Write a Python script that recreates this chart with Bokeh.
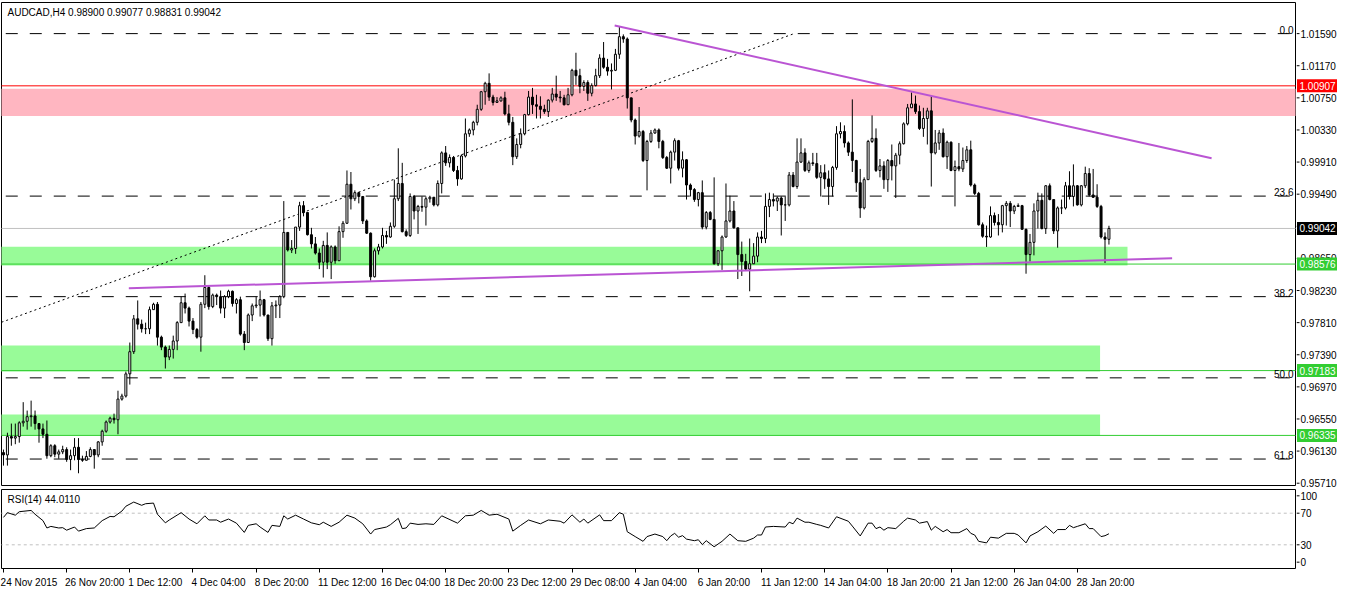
from bokeh.plotting import figure
from bokeh.layouts import column, row
from bokeh.models import (ColumnDataSource, Label, LinearAxis, FixedTicker, Range1d)
from bokeh.core.properties import value
from bokeh.embed import file_html
from bokeh.resources import INLINE

FONT = "Liberation Sans"
PIP = 0.0001

# ---------------- data ----------------
title_text = "AUDCAD,H4  0.98900 0.99077 0.98831 0.99042"
rsi_title = "RSI(14) 44.0110"

first_open_pips = 9611
close_pips = [
    9608, 9632, 9630, 9632, 9650, 9652, 9658, 9659, 9649, 9642,
    9635, 9607, 9620, 9609, 9612, 9615, 9602, 9607, 9618, 9602,
    9601, 9606, 9615, 9608, 9625, 9639, 9651, 9656, 9654, 9681,
    9685, 9714, 9743, 9786, 9779, 9773, 9773, 9798, 9805, 9762,
    9749, 9736, 9746, 9757, 9781, 9807, 9800, 9783, 9772, 9762,
    9805, 9827, 9802, 9817, 9815, 9800, 9815, 9822, 9806, 9811,
    9766, 9755, 9791, 9803, 9804, 9811, 9791, 9760, 9803, 9804,
    9815, 9899, 9876, 9878, 9906, 9934, 9925, 9896, 9884, 9872,
    9860, 9882, 9860, 9880, 9862, 9900, 9911, 9962, 9943, 9951,
    9946, 9914, 9898, 9841, 9875, 9880, 9895, 9893, 9907, 9943,
    9963, 9900, 9895, 9946, 9927, 9933, 9932, 9943, 9945, 9935,
    9963, 10003, 9990, 9997, 9980, 9969, 9999, 10028, 10033, 10043,
    10060, 10083, 10094, 10076, 10069, 10071, 10075, 10054, 10043, 9998,
    10014, 10028, 10053, 10076, 10066, 10064, 10060, 10057, 10072, 10080,
    10076, 10075, 10066, 10079, 10111, 10104, 10090, 10095, 10081, 10091,
    10104, 10127, 10115, 10110, 10111, 10132, 10155, 10152, 10075, 10046,
    10025, 10031, 9993, 10018, 10029, 10033, 10018, 9997, 9983, 10004,
    10019, 9983, 9994, 9961, 9955, 9942, 9951, 9906, 9925, 9916,
    9858, 9875, 9893, 9914, 9927, 9905, 9870, 9861, 9851, 9858,
    9868, 9893, 9891, 9933, 9942, 9940, 9944, 9935, 9935, 9974,
    9959, 9991, 10003, 9980, 9990, 9989, 9971, 9977, 9969, 9959,
    9984, 10028, 10031, 10016, 10004, 9993, 9964, 9931, 9968, 10018,
    10022, 9980, 9986, 9968, 9993, 9986, 10000, 10015, 10041, 10062,
    10067, 10057, 10035, 10048, 10058, 10003, 10016, 10029, 9998, 10017,
    9980, 9985, 9982, 9993, 10007, 9961, 9950, 9909, 9894, 9893,
    9921, 9912, 9909, 9934, 9937, 9927, 9933, 9934, 9903, 9870,
    9886, 9927, 9941, 9904, 9960, 9942, 9901, 9931, 9931, 9960,
    9946, 9960, 9935, 9960, 9976, 9948, 9945, 9933, 9893, 9890,
    9904.2,
]
high_pips = [
    9615, 9637, 9649, 9649, 9652, 9677, 9666, 9679, 9666, 9649,
    9649, 9653, 9622, 9622, 9615, 9620, 9618, 9615, 9630, 9630,
    9607, 9613, 9618, 9615, 9626, 9641, 9653, 9658, 9662, 9692,
    9688, 9717, 9755, 9791, 9810, 9785, 9781, 9802, 9807, 9808,
    9764, 9751, 9751, 9764, 9783, 9815, 9819, 9802, 9787, 9774,
    9808, 9843, 9829, 9819, 9819, 9823, 9817, 9824, 9823, 9813,
    9815, 9770, 9793, 9806, 9815, 9823, 9812, 9791, 9808, 9810,
    9817, 9940, 9899, 9889, 9906, 9939, 9940, 9920, 9905, 9893,
    9878, 9888, 9899, 9882, 9882, 9907, 9914, 9980, 9978, 9954,
    9952, 9946, 9916, 9899, 9878, 9884, 9905, 9901, 9912, 9968,
    10009, 9990, 9903, 9950, 9948, 9935, 9946, 9946, 9947, 9944,
    9967, 10005, 10012, 10001, 9999, 9986, 10001, 10048, 10035, 10045,
    10066, 10084, 10096, 10107, 10079, 10076, 10077, 10083, 10066, 10050,
    10022, 10035, 10054, 10084, 10088, 10079, 10077, 10066, 10073, 10088,
    10104, 10084, 10079, 10088, 10113, 10134, 10113, 10098, 10098, 10094,
    10113, 10132, 10148, 10126, 10120, 10139, 10168, 10158, 10154, 10073,
    10048, 10063, 10033, 10020, 10033, 10035, 10035, 10020, 9999, 10006,
    10022, 10020, 10005, 9995, 9963, 9957, 9952, 9967, 9927, 9927,
    9971, 9876, 9895, 9963, 9947, 9940, 9905, 9887, 9871, 9891,
    9885, 9899, 9901, 9950, 9951, 9950, 9946, 9946, 9946, 9978,
    9978, 10022, 10022, 10009, 9993, 10003, 10003, 9987, 9988, 9980,
    9986, 10038, 10043, 10039, 10018, 10073, 9994, 9982, 9971, 10020,
    10052, 10035, 9995, 9992, 9995, 10014, 10003, 10018, 10043, 10067,
    10082, 10078, 10065, 10062, 10062, 10077, 10033, 10033, 10035, 10019,
    10018, 9993, 10016, 10010, 10012, 10019, 9963, 9952, 9912, 9908,
    9933, 9925, 9923, 9935, 9940, 9940, 9935, 9937, 9935, 9904,
    9897, 9937, 9951, 9950, 9961, 9963, 9933, 9933, 9942, 9965,
    9979, 9988, 9961, 9961, 9985, 9983, 9982, 9962, 9935, 9899,
    9907.7,
]
low_pips = [
    9594, 9594, 9620, 9622, 9624, 9645, 9641, 9645, 9641, 9624,
    9630, 9603, 9605, 9605, 9603, 9609, 9599, 9588, 9601, 9584,
    9599, 9601, 9605, 9590, 9605, 9620, 9637, 9649, 9649, 9635,
    9679, 9683, 9700, 9740, 9772, 9768, 9766, 9766, 9798, 9751,
    9745, 9721, 9732, 9734, 9745, 9787, 9793, 9776, 9766, 9760,
    9743, 9800, 9798, 9800, 9804, 9793, 9787, 9813, 9802, 9793,
    9764, 9745, 9757, 9783, 9800, 9789, 9789, 9757, 9751, 9787,
    9787, 9813, 9874, 9872, 9871, 9901, 9920, 9895, 9878, 9870,
    9851, 9840, 9851, 9838, 9858, 9876, 9892, 9910, 9929, 9940,
    9937, 9910, 9897, 9836, 9840, 9870, 9878, 9884, 9892, 9905,
    9940, 9899, 9893, 9893, 9916, 9897, 9926, 9908, 9938, 9933,
    9933, 9950, 9986, 9984, 9978, 9960, 9968, 9997, 10024, 10026,
    10039, 10058, 10066, 10071, 10065, 10069, 10070, 10052, 10039, 9987,
    9995, 10009, 10026, 10052, 10054, 10048, 10048, 10054, 10050, 10069,
    10071, 10069, 10065, 10066, 10077, 10092, 10081, 10084, 10071, 10077,
    10090, 10101, 10113, 10104, 10086, 10110, 10126, 10147, 10061, 10043,
    10014, 10023, 9991, 9954, 10016, 10028, 10009, 9995, 9982, 9963,
    9993, 9980, 9971, 9942, 9946, 9939, 9933, 9903, 9903, 9915,
    9857, 9855, 9850, 9892, 9912, 9904, 9838, 9842, 9849, 9822,
    9860, 9860, 9885, 9885, 9919, 9933, 9927, 9895, 9914, 9933,
    9958, 9956, 9990, 9978, 9977, 9986, 9969, 9946, 9956, 9935,
    9946, 9981, 10022, 10010, 9999, 9978, 9952, 9918, 9929, 9973,
    10016, 9978, 9971, 9956, 9952, 9967, 9944, 9988, 10014, 10039,
    10062, 10054, 10033, 10024, 10014, 9959, 10001, 10007, 9997, 9982,
    9979, 9933, 9979, 9978, 9990, 9959, 9948, 9908, 9892, 9880,
    9892, 9908, 9895, 9899, 9908, 9906, 9923, 9933, 9903, 9845,
    9861, 9869, 9904, 9903, 9897, 9941, 9897, 9879, 9923, 9929,
    9942, 9933, 9934, 9933, 9957, 9946, 9944, 9931, 9891, 9859,
    9883.1,
]

tick_bars = [0, 16, 32, 48, 64, 80, 96, 112, 128, 144, 160, 176, 192, 208, 224, 240, 256, 272]
tick_labels = ["24 Nov 2015", "26 Nov 20:00", "1 Dec 12:00", "4 Dec 04:00", "8 Dec 20:00",
               "11 Dec 12:00", "16 Dec 04:00", "18 Dec 20:00", "23 Dec 12:00", "29 Dec 08:00",
               "4 Jan 04:00", "6 Jan 20:00", "11 Jan 12:00", "14 Jan 04:00", "18 Jan 20:00",
               "21 Jan 12:00", "26 Jan 04:00", "28 Jan 20:00"]

price_ticks = [0.95710, 0.96130, 0.96550, 0.96970, 0.97390, 0.97810, 0.98230, 0.98650,
               0.99070, 0.99490, 0.99910, 1.00330, 1.00750, 1.01170, 1.01590]

fib_names = ["0.0", "23.6", "38.2", "50.0", "61.8"]
fib_prices = [1.01590, 0.99465, 0.98150, 0.97088, 0.96026]

hline_prices = [1.00907, 0.99042, 0.98576, 0.97183, 0.96335]
hline_texts = ["1.00907", "0.99042", "0.98576", "0.97183", "0.96335"]
hline_colors = ["#FF0000", "#C0C0C0", "#32CD32", "#32CD32", "#32CD32"]
hline_box_colors = ["#FF0000", "#000000", "#32CD32", "#32CD32", "#32CD32"]

zone_top = [1.00869, 0.98803, 0.97511, 0.96608]
zone_bottom = [1.00514, 0.98557, 0.97171, 0.96335]
zone_left = [-10, -10, -10, -10]
zone_right = [340, 284.7, 277.75, 277.75]
zone_colors = ["#FFB6C1", "#98FB98", "#98FB98", "#98FB98"]

trend_x0 = [154.8, 31.75]
trend_y0 = [1.01695, 0.98260]
trend_x1 = [306.0, 296.0]
trend_y1 = [0.99960, 0.98651]

fibline_x = [-0.5, 200.25]
fibline_y = [0.97815, 1.01590]

rsi_bar = [0, 1, 3, 4, 7, 8, 10, 11, 12, 14, 15, 16, 18, 19, 21, 23, 25, 27, 28, 30,
           31, 33, 35, 36, 38, 39, 41, 42, 45, 47, 49, 51, 52, 54, 55, 57, 59, 61, 62, 64,
           65, 67, 68, 70, 71, 72, 74, 76, 78, 80, 81, 83, 85, 87, 89, 91, 93, 94, 97, 98,
           100, 101, 102, 103, 105, 107, 109, 111, 115, 117, 119, 121, 123, 125, 128, 129, 131, 133, 136, 138,
           141, 142, 144, 146, 147, 148, 151, 152, 154, 156, 157, 158, 160, 162, 163, 165, 167, 168, 169, 170,
           171, 172, 173, 175, 176, 177, 178, 180, 182, 184, 186, 188, 190, 191, 192, 193, 195, 198, 199, 200,
           201, 203, 204, 206, 207, 209, 211, 214, 215, 217, 218, 219, 220, 221, 222, 223, 224, 226, 228, 229,
           231, 232, 234, 235, 236, 238, 239, 240, 242, 244, 245, 246, 247, 249, 250, 252, 254, 256, 257, 259,
           260, 262, 264, 266, 267, 269, 270, 271, 272, 274, 275, 276, 278, 279, 280]
rsi_val = [64.7, 70.7, 67.5, 71.9, 73.5, 68.7, 60.6, 51.3, 53.3, 51.3, 51.7, 48.5, 52.5, 47.3, 50.5, 51.3, 60.6, 65.9, 65.5, 72.7,
           78.8, 84.1, 80.0, 82.0, 82.8, 68.7, 57.8, 61.4, 70.7, 62.6, 56.6, 66.7, 61.4, 61.4, 58.6, 62.6, 57.4, 45.7, 54.6, 56.6,
           52.5, 45.7, 54.6, 53.3, 66.7, 62.6, 67.5, 62.6, 57.8, 55.4, 58.6, 53.3, 58.6, 67.5, 63.8, 56.6, 43.6, 49.3, 52.5, 55.4,
           63.5, 50.5, 51.3, 57.4, 55.8, 56.6, 55.8, 66.7, 57.4, 66.7, 67.5, 73.5, 67.5, 68.7, 62.6, 47.3, 54.6, 61.4, 56.6, 61.4,
           59.8, 57.4, 67.9, 58.6, 62.6, 57.4, 67.9, 60.6, 60.6, 70.7, 68.7, 46.5, 40.4, 34.4, 40.4, 43.6, 40.4, 35.2, 41.2, 44.5,
           39.6, 41.6, 37.2, 35.2, 36.4, 30.3, 35.2, 27.5, 34.4, 43.6, 35.2, 34.4, 38.4, 42.4, 42.4, 52.5, 53.3, 52.5, 58.6, 56.6,
           63.8, 58.6, 58.6, 55.8, 54.6, 51.3, 65.5, 59.8, 53.7, 41.2, 49.3, 57.4, 57.4, 50.5, 52.5, 48.5, 51.7, 50.5, 59.8, 63.8,
           61.4, 57.4, 59.4, 48.5, 53.3, 46.5, 49.3, 45.3, 45.3, 50.5, 44.5, 42.4, 34.4, 32.4, 39.6, 38.4, 44.5, 44.5, 42.4, 32.4,
           41.2, 46.5, 53.7, 44.5, 49.3, 49.3, 54.6, 51.7, 53.3, 56.6, 50.5, 50.5, 40.4, 41.5, 44.0]
rsi_levels = [30, 70]
rsi_ticks = [0, 30, 70, 100]

# ---------------- layout constants ----------------
X0, X1 = -0.5, 327.25
Y0, Y1 = 0.95680, 1.01997
W = 1342
SIDE_W = 46                      # price-scale column
WL = W - SIDE_W                  # chart column
H1, B1T, B1B = 488, 2, 3         # main panel height, borders
H2, B2T, B2B = 102, 1, 22        # RSI panel height, borders
FRAME_W = WL - 2
PX_PER_BAR = FRAME_W / (X1 - X0)

n = min(len(close_pips), len(high_pips), len(low_pips))
closes = [v * PIP for v in close_pips[:n]]
opens = [first_open_pips * PIP] + closes[:-1]
highs = [max(h * PIP, o, c) for h, o, c in zip(high_pips, opens, closes)]
lows = [min(l * PIP, o, c) for l, o, c in zip(low_pips, opens, closes)]
src = ColumnDataSource(dict(
    x=list(range(n)), high=highs, low=lows,
    top=[max(o, c) for o, c in zip(opens, closes)],
    bottom=[min(o, c) for o, c in zip(opens, closes)],
    fill=["white" if c >= o else "black" for o, c in zip(opens, closes)],
))

xr = Range1d(X0, X1)


def chart_fig(h, yr, bt, bb):
    f = figure(width=WL, height=h, x_range=xr, y_range=yr,
               output_backend="svg", toolbar_location=None,
               x_axis_location=None, y_axis_location=None,
               min_border_left=1, min_border_right=1, min_border_top=bt, min_border_bottom=bb,
               background_fill_color="white", border_fill_color="white",
               outline_line_color="black", outline_line_alpha=1.0)
    f.grid.visible = False
    return f


def side_fig(h, lo, hi):
    f = figure(width=SIDE_W, height=h, x_range=Range1d(0, SIDE_W), y_range=Range1d(lo, hi),
               output_backend="svg", toolbar_location=None,
               x_axis_location=None, y_axis_location=None,
               min_border_left=0, min_border_right=0, min_border_top=0, min_border_bottom=0,
               background_fill_color="white", border_fill_color="white",
               outline_line_color=None)
    f.grid.visible = False
    return f


# ---------------- main panel ----------------
p1 = chart_fig(H1, Range1d(Y0, Y1), B1T, B1B)

p1.quad(left=zone_left, right=zone_right, top=zone_top, bottom=zone_bottom,
        fill_color=zone_colors, line_color=None)
k = len(hline_prices)
p1.segment(x0=[X0 - 5] * k, x1=[X1 + 5] * k, y0=hline_prices, y1=hline_prices,
           line_color=hline_colors, line_width=1)
k = len(fib_prices)
p1.segment(x0=[X0 - 5] * k, x1=[X1 + 5] * k, y0=fib_prices, y1=fib_prices,
           line_color="black", line_width=1, line_dash="12 12")
p1.line(fibline_x, fibline_y, line_color="black", line_width=1, line_dash="2 3")

p1.segment(x0="x", y0="low", x1="x", y1="high", source=src, line_color="black", line_width=1)
p1.vbar(x="x", width=0.5, top="top", bottom="bottom", source=src,
        fill_color="fill", line_color="black", line_width=1)

p1.segment(x0=trend_x0, y0=trend_y0, x1=trend_x1, y1=trend_y1,
           line_color="#BA55D3", line_width=2)

p1.add_layout(Label(x=X0, y=Y1, x_offset=6, y_offset=-4, text=title_text,
                    text_font=FONT, text_font_size="10px", text_color="black",
                    text_baseline="top", text_align="left"))
for name, pr in zip(fib_names, fib_prices):
    p1.add_layout(Label(x=X1, y=pr, x_offset=-2, y_offset=0, text=name,
                        text_font=FONT, text_font_size="10px", text_color="black",
                        text_baseline="bottom", text_align="right"))

# price scale column for the main panel (same scale as p1's frame)
upp1 = (Y1 - Y0) / (H1 - B1T - B1B)
s1 = side_fig(H1, Y0 - B1B * upp1, Y1 + B1T * upp1)
k = len(price_ticks)
s1.segment(x0=[0] * k, x1=[3] * k, y0=price_ticks, y1=price_ticks, line_color="black", line_width=1)
s1.text(x=[4] * k, y=price_ticks, text=[f"{t:.5f}" for t in price_ticks],
        text_font=value(FONT), text_font_size="10px", text_color="black",
        text_baseline="middle", text_align="left")
k = len(hline_prices)
s1.rect(x=[20.5] * k, y=hline_prices, width=40, height=13, height_units="screen",
        fill_color=hline_box_colors, line_color=None)
s1.text(x=[3] * k, y=hline_prices, text=hline_texts,
        text_font=value(FONT), text_font_size="10px", text_color="white",
        text_baseline="middle", text_align="left")

# ---------------- RSI panel ----------------
p2 = chart_fig(H2, Range1d(0, 100), B2T, B2B)
k = len(rsi_levels)
p2.segment(x0=[X0 - 5] * k, x1=[X1 + 5] * k, y0=rsi_levels, y1=rsi_levels,
           line_color="#C0C0C0", line_width=1, line_dash="3 3")
p2.line(rsi_bar, rsi_val, line_color="black", line_width=1)
p2.add_layout(Label(x=X0, y=100, x_offset=6, y_offset=-4, text=rsi_title,
                    text_font=FONT, text_font_size="10px", text_color="black",
                    text_baseline="top", text_align="left"))

label_pos = [round(b + (len(t) * 5.0 / 2 - 2) / PX_PER_BAR, 2) for b, t in zip(tick_bars, tick_labels)]
xa = LinearAxis(ticker=FixedTicker(ticks=label_pos, minor_ticks=tick_bars),
                major_label_overrides={pos: t for pos, t in zip(label_pos, tick_labels)},
                major_tick_out=0, major_tick_in=0, minor_tick_out=4, minor_tick_in=0,
                minor_tick_line_color="black",
                axis_line_color=None, major_label_standoff=4,
                major_label_text_font=FONT, major_label_text_font_size="10px",
                major_label_text_color="black")
p2.add_layout(xa, "below")

upp2 = 100.0 / (H2 - B2T - B2B)
s2 = side_fig(H2, 0 - B2B * upp2, 100 + B2T * upp2)
rsi_tick_pos = [min(max(t, 8), 92) for t in rsi_ticks]
k = len(rsi_ticks)
s2.segment(x0=[0] * k, x1=[3] * k, y0=rsi_tick_pos, y1=rsi_tick_pos, line_color="black", line_width=1)
s2.text(x=[4] * k, y=rsi_tick_pos, text=[str(t) for t in rsi_ticks],
        text_font=value(FONT), text_font_size="10px", text_color="black",
        text_baseline="middle", text_align="left")

layout = row(column(p1, p2, spacing=0), column(s1, s2, spacing=0), spacing=0)
open("out.html", "w").write(file_html(layout, INLINE))
